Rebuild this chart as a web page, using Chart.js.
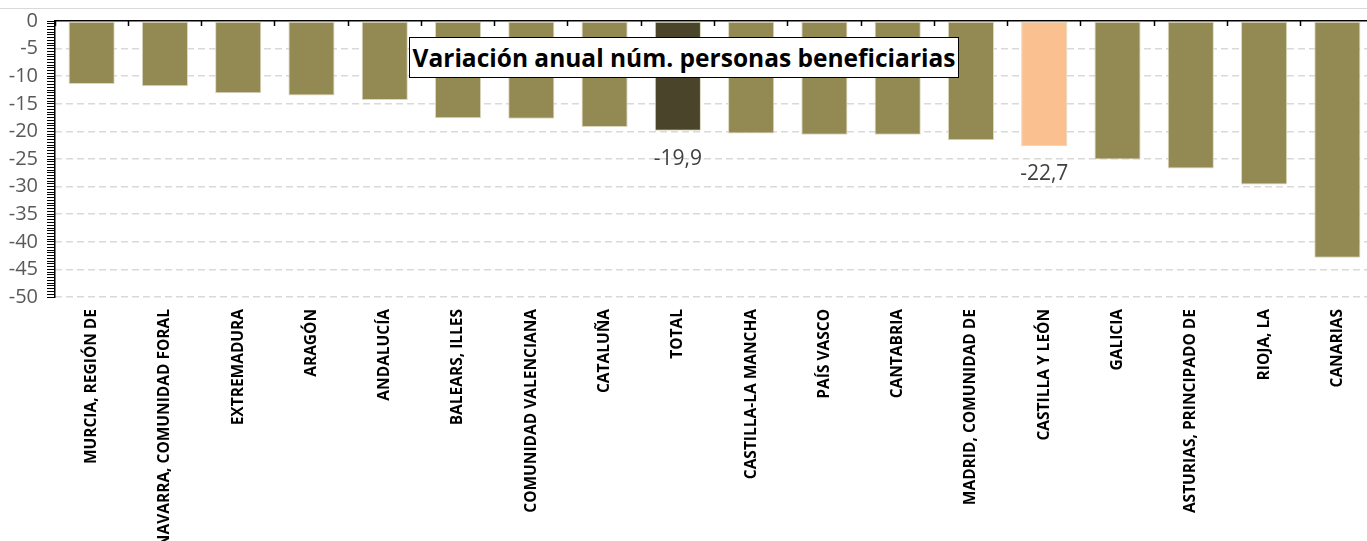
<!DOCTYPE html>
<html>
<head>
<meta charset="utf-8">
<script src="https://cdn.jsdelivr.net/npm/chart.js@4.4.0/dist/chart.umd.min.js"></script>
<style>
  html, body { margin: 0; padding: 0; background: #fff; overflow: hidden; width: 1367px; height: 541px; }
  #wrap { position: absolute; left: 0; top: 0; width: 1374px; height: 541px; }
  #topline { position: absolute; left: 0; top: 8px; width: 1367px; height: 0; border-top: 1px solid #d9d9d9; }
  #title { position: absolute; left: 409px; top: 37px; width: 548px; height: 39px; background: #fff; border: 1.5px solid #000;
    display: flex; align-items: center; justify-content: center; font-family: "Open Sans", sans-serif; font-weight: bold; font-size: 24.5px; color: #000; white-space: nowrap; }
</style>
</head>
<body>
<div id="topline"></div>
<div id="wrap"><canvas id="c" width="1374" height="541"></canvas></div>
<div id="title">Variación anual núm. personas beneficiarias</div>
<script>
const categories = ["MURCIA, REGIÓN DE", "NAVARRA, COMUNIDAD FORAL", "EXTREMADURA", "ARAGÓN", "ANDALUCÍA", "BALEARS, ILLES", "COMUNIDAD VALENCIANA", "CATALUÑA", "TOTAL", "CASTILLA-LA MANCHA", "PAÍS VASCO", "CANTABRIA", "MADRID, COMUNIDAD DE", "CASTILLA Y LEÓN", "GALICIA", "ASTURIAS, PRINCIPADO DE", "RIOJA, LA", "CANARIAS"];
const variation = [-11.4, -11.8, -13.1, -13.5, -14.3, -17.6, -17.7, -19.2, -19.9, -20.4, -20.6, -20.6, -21.6, -22.7, -25.1, -26.7, -29.6, -42.9];
const labelledCategories = ["TOTAL", "CASTILLA Y LEÓN"];
const yTickMin = -50;
const yTickMax = 0;
const yTickStep = 5;

const baseColor = "#938953";
const barColors = categories.map(c => c === "TOTAL" ? "#4a452a" : (c === "CASTILLA Y LEÓN" ? "#fac090" : baseColor));

const valueLabels = {
  id: "valueLabels",
  afterDatasetsDraw(chart) {
    const ctx = chart.ctx;
    const meta = chart.getDatasetMeta(0);
    ctx.save();
    ctx.font = "21px 'Open Sans', sans-serif";
    ctx.fillStyle = "#404040";
    ctx.textAlign = "center";
    ctx.textBaseline = "middle";
    meta.data.forEach((bar, i) => {
      if (!labelledCategories.includes(categories[i])) return;
      const txt = variation[i].toFixed(1).replace(".", ",");
      ctx.fillText(txt, bar.x, bar.y + 28);
    });
    ctx.restore();
  }
};

new Chart(document.getElementById("c"), {
  type: "bar",
  data: {
    labels: categories,
    datasets: [{
      data: variation,
      backgroundColor: barColors,
      borderColor: "#dcd8bf",
      borderWidth: 1,
      borderSkipped: false,
      barPercentage: 0.63,
      categoryPercentage: 1.0
    }]
  },
  options: {
    responsive: false,
    animation: false,
    layout: { padding: { top: 19, left: 0, right: 0, bottom: 0 } },
    plugins: { legend: { display: false }, tooltip: { enabled: false }, title: { display: false } },
    scales: {
      x: {
        position: "bottom",
        grid: { display: false, drawTicks: false },
        border: { display: false },
        ticks: {
          autoSkip: false, maxRotation: 90, minRotation: 90, padding: 12,
          color: "#000", font: { family: "'Open Sans', sans-serif", weight: "bold", size: 15.5 }
        },
        afterFit(s) { s.height = 244; }
      },
      xTop: {
        type: "category",
        position: "top",
        labels: categories,
        offset: true,
        grid: { display: true, offset: true, drawOnChartArea: false, drawTicks: true, tickLength: -5, tickColor: "#000", tickWidth: 1.5 },
        ticks: { display: false },
        border: { display: true, color: "#000", width: 1.5 },
        afterFit(s) { s.height = 0; }
      },
      y: {
        position: "left",
        weight: 1,
        min: yTickMin, max: yTickMax,
        ticks: {
          stepSize: yTickStep, padding: 9, color: "#595959",
          font: { family: "'Open Sans', sans-serif", size: 20 }
        },
        grid: {
          drawTicks: false,
          color: c => (c.tick && c.tick.value === 0) ? "rgba(0,0,0,0)" : "#d9d9d9",
          lineWidth: 1.5
        },
        border: { display: false, dash: [7, 4] },
        afterFit(s) { s.width = 47; }
      },
      yMinor: {
        position: "left",
        weight: 0,
        min: yTickMin, max: yTickMax,
        ticks: { display: false, stepSize: 0.5, maxTicksLimit: 200, autoSkip: false },
        grid: { drawOnChartArea: false, drawTicks: true, tickLength: 8, tickColor: "#000", tickWidth: 1 },
        border: { display: true, color: "#000", width: 1.5 },
        afterFit(s) { s.width = 8; }
      }
    }
  },
  plugins: [valueLabels]
});
</script>
</body>
</html>
